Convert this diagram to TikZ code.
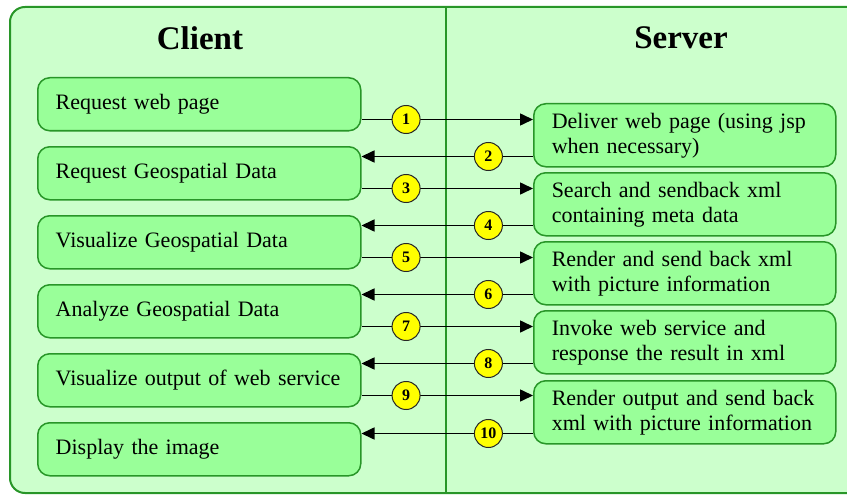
\documentclass[tikz,border=0pt]{standalone}
\usepackage{fontspec}
\setmainfont{Liberation Serif}
\usetikzlibrary{arrows.meta}

\definecolor{paneFill}{RGB}{204,255,204}
\definecolor{boxFill}{RGB}{153,255,153}
\definecolor{edgeGreen}{RGB}{40,150,40}
\definecolor{tagYellow}{RGB}{255,255,0}

\tikzset{
  cbox/.style={draw=edgeGreen, fill=boxFill, line width=1.5pt, rounded corners=12pt,
    anchor=north west, minimum height=53pt, text width=305pt, inner xsep=9pt,
    align=left, execute at begin node={\leftskip=9pt\relax},
    font=\fontsize{22}{25}\selectfont},
  sbox/.style={cbox, minimum height=63pt, text width=284pt},
  tag/.style={circle, draw=black!85, fill=tagYellow, line width=1pt, minimum size=28pt,
    inner sep=0pt, font=\bfseries\fontsize{16}{16}\selectfont},
  flow/.style={line width=1.6pt, -{Triangle[length=13pt,width=12pt]}},
}

\begin{document}
\begin{tikzpicture}[x=1pt,y=-1pt]
        \useasboundingbox (0,0) rectangle (847,495);
        \clip (0,0) rectangle (847,495);

        % background panel and the split between the two sides
        \draw[draw=edgeGreen, fill=paneFill, line width=2pt, rounded corners=15pt] (10,7) rectangle (880,493);
        \draw[edgeGreen, line width=2pt] (446,7) -- (446,493);

        \node[font=\bfseries\fontsize{33}{33}\selectfont] (client) at (200,38) {Client};
        \node[font=\bfseries\fontsize{33}{33}\selectfont] (server) at (681,38) {Server};

        % client side
        \node[cbox] (c1) at (37,77)  {Request web page};
        \node[cbox] (c2) at (37,146) {Request Geospatial Data};
        \node[cbox] (c3) at (37,215) {Visualize Geospatial Data};
        \node[cbox] (c4) at (37,284) {Analyze Geospatial Data};
        \node[cbox] (c5) at (37,353) {Visualize output of web service};
        \node[cbox] (c6) at (37,422) {Display the image};

        % server side
        \node[sbox] (s1) at (533,103) {Deliver web page (using jsp\\when necessary)};
        \node[sbox] (s2) at (533,172) {Search and sendback xml\\containing meta data};
        \node[sbox] (s3) at (533,241) {Render and send back xml\\with picture information};
        \node[sbox] (s4) at (533,310) {Invoke web service and\\response the result in xml};
        \node[sbox] (s5) at (533,380) {Render output and send back\\xml with picture information};

        % requests and replies
        \foreach \k/\nxt/\a/\b in {1/2/1/2, 2/3/3/4, 3/4/5/6, 4/5/7/8, 5/6/9/10} {
          \coordinate (out\k) at ([yshift=12pt]c\k.south east);
          \coordinate (in\k) at ([yshift=11pt]s\k.south west);
          \draw[flow] (out\k) -- (out\k -| s\k.west) node[tag,pos=.26] {\a};
          \draw[flow] (in\k) -- (in\k -| c\nxt.east) node[tag,pos=.26] {\b};
        }
      \end{tikzpicture}
\end{document}
